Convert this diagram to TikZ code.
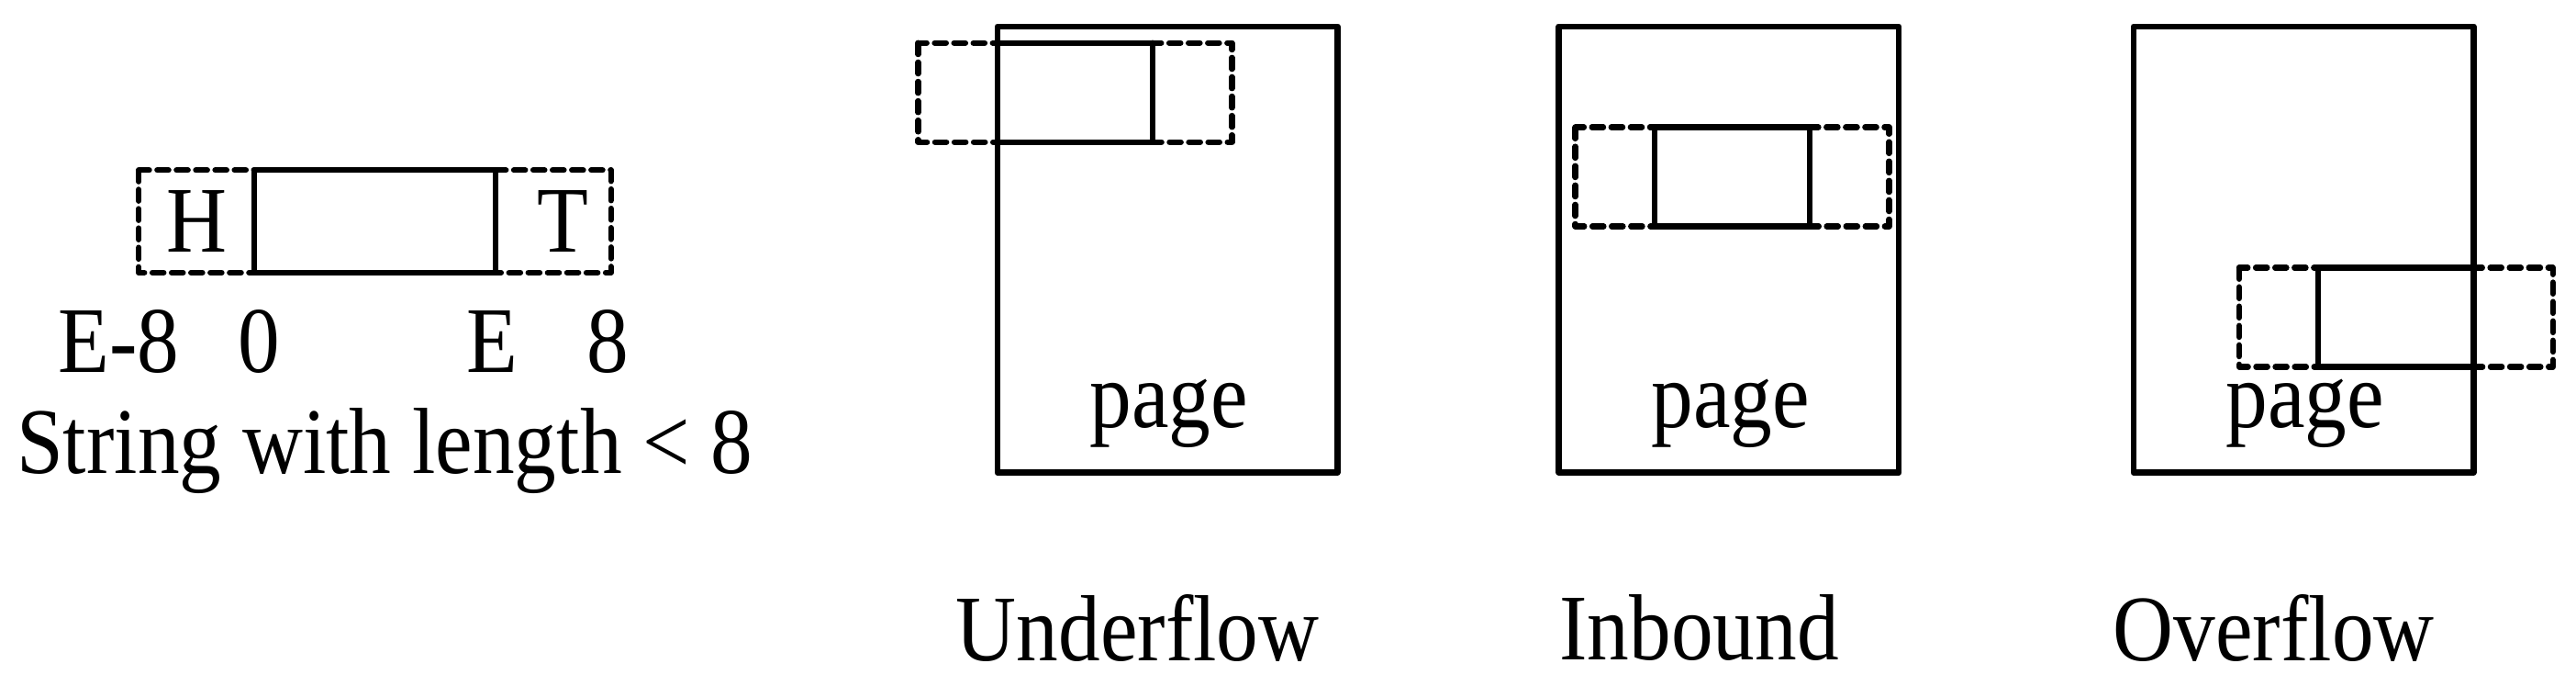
\documentclass[tikz,border=0pt]{standalone}
\usepackage{fontspec}
\setmainfont{Liberation Serif}
\begin{document}
\begin{tikzpicture}[line cap=round,line join=round,x=0.018cm,y=-0.018cm,
  solidbox/.style={line width=1.8pt},
  tailbox/.style={line width=1.8pt,dash pattern=on 3.5pt off 2.5pt},
  lbl/.style={font=\fontsize{26}{28}\selectfont,inner sep=0pt,yscale=1.12}]
\useasboundingbox (0,0) rectangle (1560,415);
% string with head and tail
\draw[tailbox] (84,103) rectangle (154,165);
\draw[tailbox] (300,103) rectangle (370,165);
\draw[solidbox] (154,103) rectangle (300,165);
\node[lbl] (head) at (119,134) {H};
\node[lbl] (tail) at (341,134) {T};
\node[lbl] (em) at (72,207) {E-8};
\node[lbl] (zero) at (157,207) {0};
\node[lbl] (e) at (298,207) {E};
\node[lbl] (eight) at (368,207) {8};
\node[lbl] (str) at (233,273) {String with length < 8};
% pages
\foreach \px/\bx/\by/\name/\title in {604/604/26/under/Underflow,944/1002/77/in/Inbound,1292/1404/162/over/Overflow}{
  \draw[solidbox] (\px,16) rectangle ++(206,270);
  \draw[tailbox] (\bx-48,\by) rectangle ++(48,60);
  \draw[tailbox] (\bx+94,\by) rectangle ++(48,60);
  \draw[solidbox] (\bx,\by) rectangle ++(94,60);
  \node[lbl] (\name page) at (\px+104,250) {page};
  \node[lbl] (\name) at (\px+85,380) {\title};
}
\end{tikzpicture}
\end{document}
